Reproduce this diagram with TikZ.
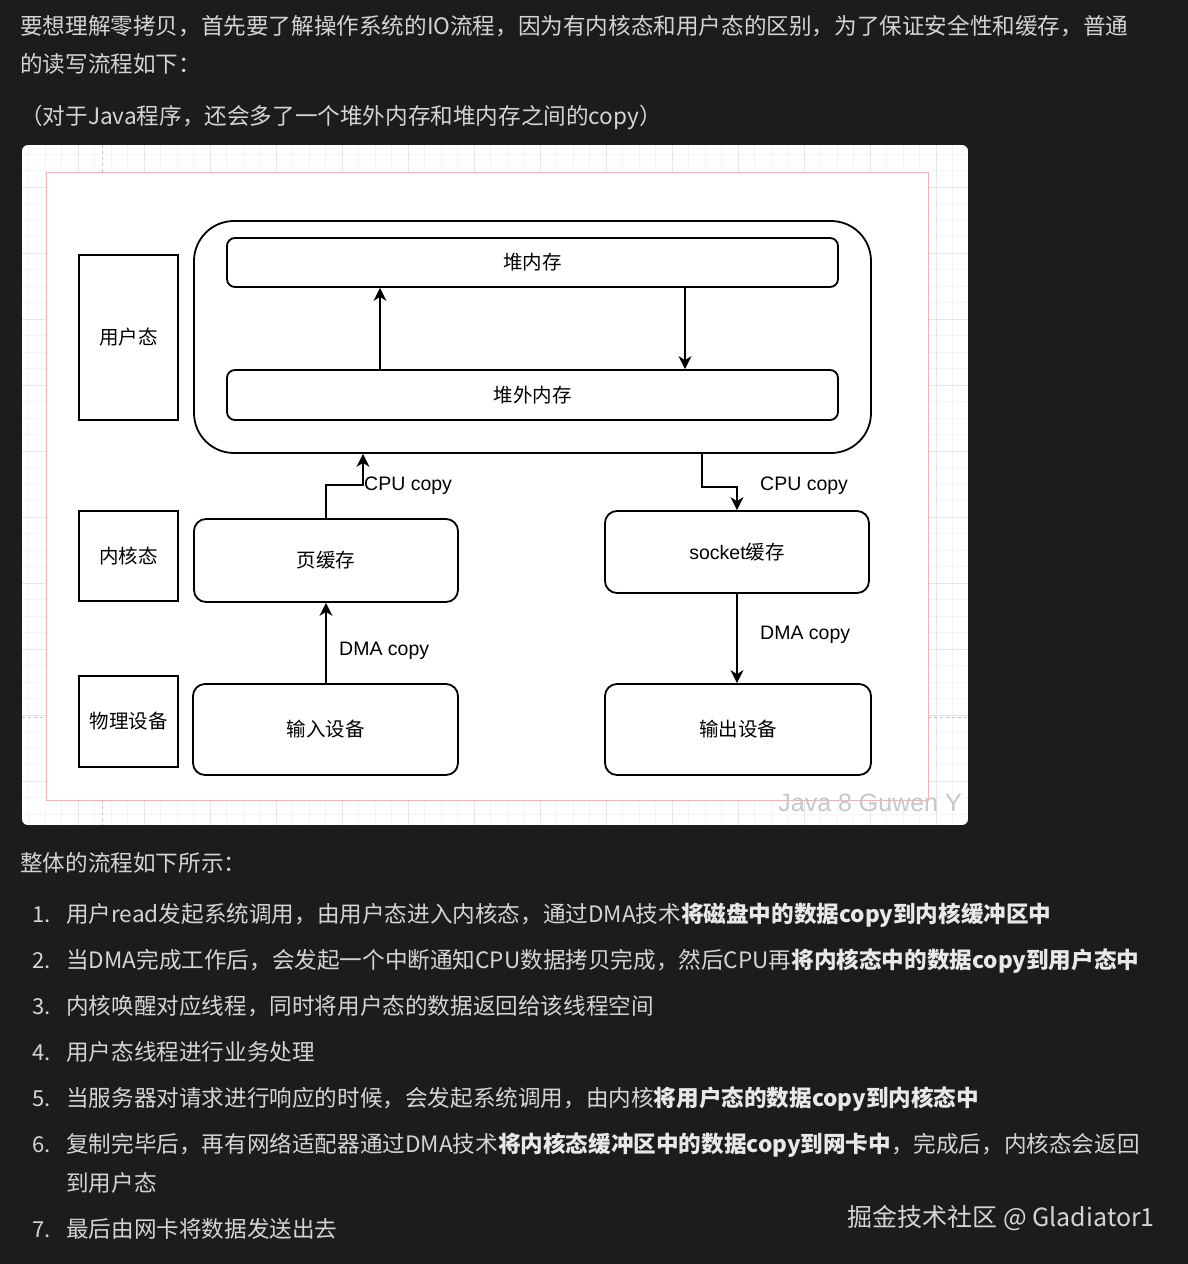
\documentclass[tikz,border=0pt]{standalone}
\usepackage{fontspec}
\setmainfont{Noto Sans CJK SC}
\newfontfamily\lib{Liberation Sans}
\usetikzlibrary{arrows.meta}
\definecolor{bg}{HTML}{1B1C1E}
\definecolor{fg}{HTML}{D4D4D4}
\definecolor{fgb}{HTML}{E8E8E8}
\definecolor{gridminor}{HTML}{F4F4F4}
\definecolor{gridmajor}{HTML}{E6E6E6}
\definecolor{pagec}{HTML}{F0B4B4}
\definecolor{brk}{HTML}{C4C4C4}
\begin{document}
\begin{tikzpicture}[x=1pt,y=-1pt,
  body/.style={anchor=base west,inner sep=0pt,text=fg,font=\fontsize{22.6}{22.6}\selectfont},
  num/.style={anchor=base west,inner sep=0pt,text=fg,font=\fontsize{22}{22}\selectfont},
  lane/.style={draw=black,line width=1.8pt,fill=white,inner sep=0pt,font=\fontsize{19.5}{19.5}\selectfont},
  rbox/.style={lane,rounded corners=12pt},
  bar/.style={lane,rounded corners=8pt},
  arr/.style={line width=1.6pt,-{Stealth[length=13pt,width=13pt,inset=4pt]}},
  lbl/.style={anchor=west,inner sep=0pt,font=\lib\fontsize{19.5}{19.5}\selectfont}]
\useasboundingbox (0,0) rectangle (1188,1264);
\fill[bg] (0,0) rectangle (1188,1264);

% ---------- text above ----------
\node[body] (t1) at (20,34) {要想理解零拷贝，首先要了解操作系统的IO流程，因为有内核态和用户态的区别，为了保证安全性和缓存，普通};
\node[body] (t2) at (20,72) {的读写流程如下：};
\node[body] (t3) at (20,124) {（对于Java程序，还会多了一个堆外内存和堆内存之间的copy）};

% ---------- panel ----------
\begin{scope}
\clip[rounded corners=6pt] (22,145) rectangle (968,825);
\fill[white] (22,145) rectangle (968,825);
\foreach \x in {12,28.5,...,980} \draw[gridminor,line width=0.6pt] (\x,145) -- (\x,825);
\foreach \y in {137.5,154,...,830} \draw[gridminor,line width=0.6pt] (22,\y) -- (968,\y);
\foreach \x in {12,78,...,980} \draw[gridmajor,line width=0.7pt] (\x,145) -- (\x,825);
\foreach \y in {121,187,...,830} \draw[gridmajor,line width=0.7pt] (22,\y) -- (968,\y);
\draw[brk,dashed,line width=0.8pt] (102,145) -- (102,172);
\draw[brk,dashed,line width=0.8pt] (102,800) -- (102,825);
\draw[brk,dashed,line width=0.8pt] (22,717) -- (46,717);
\draw[brk,dashed,line width=0.8pt] (928,717) -- (968,717);
\fill[white] (46,172) rectangle (928,800);
\draw[pagec,line width=0.9pt] (46,172) rectangle (928,800);
\end{scope}

% ---------- lanes ----------
\node[lane,minimum width=99pt,minimum height=165pt] (user) at (128.5,337.5) {用户态};
\node[lane,minimum width=99pt,minimum height=90pt] (kern) at (128.5,556) {内核态};
\node[lane,minimum width=99pt,minimum height=91pt] (phys) at (128.5,721.5) {物理设备};

% ---------- boxes ----------
\node[lane,rounded corners=40pt,minimum width=677pt,minimum height=232pt] (cont) at (532.5,337) {};
\node[bar,minimum width=611pt,minimum height=49pt] (heap) at (532.5,262.5) {堆内存};
\node[bar,minimum width=611pt,minimum height=50pt] (offheap) at (532.5,395) {堆外内存};
\node[rbox,minimum width=264pt,minimum height=83pt] (pcache) at (326,560.5) {页缓存};
\node[rbox,minimum width=265pt,minimum height=91pt] (input) at (325.5,729.5) {输入设备};
\node[rbox,minimum width=264pt,minimum height=82pt] (sock) at (737,552) {{\lib socket}缓存};
\node[rbox,minimum width=266pt,minimum height=91pt] (output) at (738,729.5) {输出设备};

\coordinate (xa) at (380,0);
\coordinate (xb) at (685,0);
\coordinate (xc) at (363,0);
\coordinate (xd) at (702,0);

% ---------- arrows ----------
\draw[arr] (offheap.north -| xa) -- (heap.south -| xa);
\draw[arr] (heap.south -| xb) -- (offheap.north -| xb);
\draw[arr] (input.north -| pcache.south) -- (pcache.south);
\draw[arr] (pcache.north) -- ++(0,-33) -| (cont.south -| xc);
\draw[arr] (cont.south -| xd) -- ++(0,33) -| (sock.north);
\draw[arr] (sock.south) -- (sock.south |- output.north);

\node[lbl] (l1) at (364,486) {CPU copy};
\node[lbl] (l2) at (760,486) {CPU copy};
\node[lbl] (l3) at (339,651) {DMA copy};
\node[lbl] (l4) at (760,635) {DMA copy};

\node[anchor=east,inner sep=0pt,text=black!22,font=\lib\fontsize{25}{25}\selectfont] (wm1) at (962,803) {Java 8 Guwen Y};

% ---------- text below ----------
\node[body] (t4) at (20,871) {整体的流程如下所示：};
\node[num] (n1) at (32,922) {1.};
\node[body] (i1) at (66,922) {用户read发起系统调用，由用户态进入内核态，通过DMA技术{\bfseries\color{fgb}将磁盘中的数据copy到内核缓冲区中}};
\node[num] (n2) at (32,968) {2.};
\node[body] (i2) at (66,968) {当DMA完成工作后，会发起一个中断通知CPU数据拷贝完成，然后CPU再{\bfseries\color{fgb}将内核态中的数据copy到用户态中}};
\node[num] (n3) at (32,1014) {3.};
\node[body] (i3) at (66,1014) {内核唤醒对应线程，同时将用户态的数据返回给该线程空间};
\node[num] (n4) at (32,1060) {4.};
\node[body] (i4) at (66,1060) {用户态线程进行业务处理};
\node[num] (n5) at (32,1106) {5.};
\node[body] (i5) at (66,1106) {当服务器对请求进行响应的时候，会发起系统调用，由内核{\bfseries\color{fgb}将用户态的数据copy到内核态中}};
\node[num] (n6) at (32,1152) {6.};
\node[body] (i6) at (66,1152) {复制完毕后，再有网络适配器通过DMA技术{\bfseries\color{fgb}将内核态缓冲区中的数据copy到网卡中}，完成后，内核态会返回};
\node[body] (i6b) at (66,1191) {到用户态};
\node[num] (n7) at (32,1237) {7.};
\node[body] (i7) at (66,1237) {最后由网卡将数据发送出去};

\node[anchor=base east,inner sep=0pt,text=fg,font=\fontsize{25}{25}\selectfont] (wm2) at (1155,1226) {掘金技术社区 @ Gladiator1};
\end{tikzpicture}
\end{document}
